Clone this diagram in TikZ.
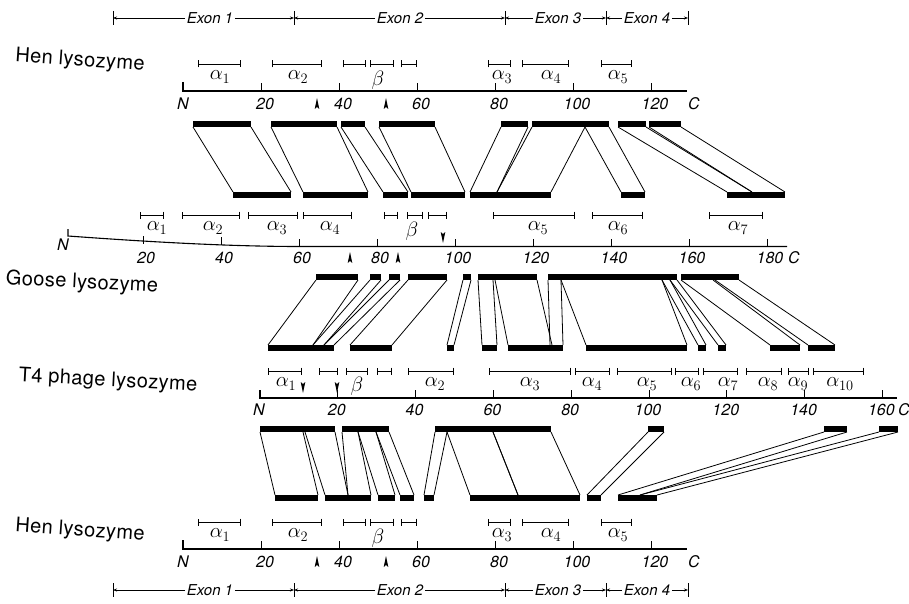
\documentclass[tikz,border=0pt]{standalone}
\usepackage{fontspec}
\setmainfont{TeX Gyre Heros}
\usetikzlibrary{arrows.meta}

\tikzset{
  bandline/.style={line width=0.8pt},
  ssbar/.style={line width=0.9pt,{Bar[width=7pt,line width=0.9pt]}-{Bar[width=7pt,line width=0.9pt]}},
  axisline/.style={line width=1.1pt},
  ticklab/.style={font=\fontsize{16}{16}\selectfont\itshape, inner sep=0pt},
  sslab/.style={font=\fontsize{20}{20}\selectfont, inner sep=0pt},
  betalab/.style={font=\fontsize{22}{22}\selectfont, inner sep=0pt},
  protlab/.style={font=\fontsize{20}{20}\selectfont\addfontfeature{LetterSpace=2}, inner sep=0pt},
  exonlab/.style={font=\fontsize{15}{15}\selectfont\itshape, inner sep=1.5pt},
  exarrow/.style={line width=0.6pt,-{Stealth[length=4pt,width=3pt]}},
}

% black alignment block, 6 units tall, top edge at #3
\newcommand\blkbar[3]{\fill ({#1},{#3}) rectangle ({#2},{#3+6});}
% the two edges of an aligned segment: topL topR botL botR ytop ybot
\newcommand\bandpair[6]{\draw[bandline] ({#1},{#5}) -- ({#3},{#6}) ({#2},{#5}) -- ({#4},{#6});}
% secondary-structure span
\newcommand\ssseg[3]{\draw[ssbar] ({#1},{#3}) -- ({#2},{#3});}
% intron position markers
\newcommand\upmark[2]{\fill ({#1-2.3},{#2+5}) -- ({#1},{#2-6}) -- ({#1+2.3},{#2+5}) -- ({#1},{#2+3}) -- cycle;}
\newcommand\downmark[2]{\fill ({#1-2.3},{#2-5}) -- ({#1},{#2+6}) -- ({#1+2.3},{#2-5}) -- ({#1},{#2-3}) -- cycle;}

% exon boundaries of the hen gene
\newcommand\exonrow[2]{%
  \foreach \bx [count=\i] in {113,294,505,606,688} {%
    \coordinate (#1b\i) at (\bx,#2);
    \draw[line width=0.7pt] (\bx,{#2-7}) -- (\bx,{#2+7});}
  \node[exonlab] (#1e1) at (210,#2) {Exon 1};
  \node[exonlab] (#1e2) at (400,#2) {Exon 2};
  \node[exonlab] (#1e3) at (558,#2) {Exon 3};
  \node[exonlab] (#1e4) at (647,#2) {Exon 4};
  \draw[exarrow] (#1e1.west) -- (#1b1);
  \draw[exarrow] (#1e1.east) -- (#1b2);
  \draw[exarrow] (#1e2.west) -- (#1b2);
  \draw[exarrow] (#1e2.east) -- (#1b3);
  \draw[exarrow] (#1e3.west) -- (#1b3);
  \draw[exarrow] (#1e3.east) -- (#1b4);
  \draw[exarrow] (#1e4.west) -- (#1b4);
  \draw[exarrow] (#1e4.east) -- (#1b5);
}

% hen lysozyme sequence axis with its secondary structure; #2 = y of the spans
\newcommand\henrow[2]{%
  \ssseg{198}{241}{#2}\ssseg{272}{322}{#2}
  \ssseg{343}{366}{#2}\ssseg{370}{394}{#2}\ssseg{401}{417}{#2}
  \ssseg{488}{511}{#2}\ssseg{522}{569}{#2}\ssseg{601}{632}{#2}
  \node[sslab] (#1a1) at (220,{#2+13}) {$\alpha_1$};
  \node[sslab] (#1a2) at (298,{#2+13}) {$\alpha_2$};
  \node[betalab] (#1b) at (378,{#2+16}) {$\beta$};
  \node[sslab] (#1a3) at (502,{#2+13}) {$\alpha_3$};
  \node[sslab] (#1a4) at (551,{#2+13}) {$\alpha_4$};
  \node[sslab] (#1a5) at (618,{#2+13}) {$\alpha_5$};
  \draw[axisline] (183,{#2+18}) -- (183,{#2+27}) -- (687,{#2+27});
  \foreach \r in {20,40,...,120} {%
    \draw[line width=0.8pt] ({183+3.9*\r},{#2+27}) -- ({183+3.9*\r},{#2+19});
    \node[ticklab] (#1n\r) at ({187+3.9*\r},{#2+40}) {\r};}
  \node[ticklab] (#1N) at (183,{#2+40}) {N};
  \node[ticklab] (#1C) at (694,{#2+40}) {C};
  \upmark{317}{#2+40}\upmark{386}{#2+40}
}

\begin{document}
\begin{tikzpicture}[x=1pt,y=-1pt]
\useasboundingbox (0,0) rectangle (909,604);

% ---------------- hen lysozyme, top ----------------
\exonrow{top}{18}
\henrow{ht}{64}
\node[protlab, rotate=-4] (henTop) at (80,61) {Hen lysozyme};

% ---------------- hen / goose segments ----------------
\foreach \a/\b in {193/251,271/337,341/365,379/435,501/528,532/609,618/646,649/681}
  {\blkbar{\a}{\b}{121}}
\foreach \a/\b in {233/291,303/368,383/408,411/465,470/551,621/645,727/785}
  {\blkbar{\a}{\b}{192}}
\bandpair{193}{251}{233}{291}{127}{192}
\bandpair{271}{337}{303}{368}{127}{192}
\bandpair{341}{365}{383}{408}{127}{192}
\bandpair{379}{435}{411}{465}{127}{192}
\bandpair{501}{528}{470}{497}{127}{192}
\bandpair{532}{585}{497}{551}{127}{192}
\bandpair{585}{609}{621}{645}{127}{192}
\bandpair{618}{646}{727}{752}{127}{192}
\bandpair{649}{681}{752}{785}{127}{192}

% ---------------- goose lysozyme ----------------
\ssseg{140}{164}{215}\ssseg{182}{240}{215}\ssseg{248}{298}{215}\ssseg{303}{352}{215}
\ssseg{384}{398}{215}\ssseg{407}{423}{215}\ssseg{428}{447}{215}
\ssseg{493}{575}{215}\ssseg{592}{643}{215}\ssseg{709}{763}{215}
\node[sslab] (ga1) at (157,228) {$\alpha_1$};
\node[sslab] (ga2) at (213,228) {$\alpha_2$};
\node[sslab] (ga3) at (277,228) {$\alpha_3$};
\node[sslab] (ga4) at (330,228) {$\alpha_4$};
\node[betalab] (gb) at (412,231) {$\beta$};
\node[sslab] (ga5) at (538,228) {$\alpha_5$};
\node[sslab] (ga6) at (618,228) {$\alpha_6$};
\node[sslab] (ga7) at (738,228) {$\alpha_7$};
\draw[axisline] (68,229) -- (68,236) .. controls (150,242) and (230,246.5) .. (300,246.5) -- (787,246.5);
\foreach \r/\dy in {20/3,40/1.5,60/0,80/0,100/0,120/0,140/0,160/0,180/0} {%
  \draw[line width=0.8pt] ({65+3.9*\r},{246.5-\dy}) -- ({65+3.9*\r},{238.5-\dy});
  \node[ticklab] (gn\r) at ({68+3.9*\r},258) {\r};}
\node[ticklab] (gN) at (63,245) {N};
\node[ticklab] (gC) at (794,258) {C};
\upmark{350}{258}\upmark{398}{258}
\downmark{443}{237}
\node[protlab, rotate=-3] (goose) at (82,283) {Goose lysozyme};

% ---------------- goose / T4 segments ----------------
\foreach \a/\b in {316/358,370/381,389/400,408/447,463/471,478/537,548/677,681/739}
  {\blkbar{\a}{\b}{274}}
\foreach \a/\b in {268/334,350/392,447/454,482/497,508/563,586/687,698/706,718/726,770/800,808/835}
  {\blkbar{\a}{\b}{345}}
\bandpair{316}{358}{268}{313}{280}{345}
\bandpair{370}{381}{313}{324}{280}{345}
\bandpair{389}{400}{324}{334}{280}{345}
\bandpair{408}{447}{350}{392}{280}{345}
\bandpair{463}{471}{447}{454}{280}{345}
\bandpair{478}{493}{482}{497}{280}{345}
\bandpair{495}{537}{508}{552}{280}{345}
\bandpair{548}{561}{550}{563}{280}{345}
\bandpair{561}{662}{586}{687}{280}{345}
\bandpair{662}{670}{698}{706}{280}{345}
\bandpair{670}{677}{718}{726}{280}{345}
\bandpair{681}{713}{770}{800}{280}{345}
\bandpair{715}{739}{808}{835}{280}{345}

% ---------------- T4 phage lysozyme ----------------
\ssseg{268}{302}{371}
\ssseg{319}{338}{371}\ssseg{346}{368}{371}\ssseg{377}{392}{371}
\ssseg{408}{454}{371}\ssseg{489}{571}{371}\ssseg{575}{610}{371}\ssseg{617}{672}{371}
\ssseg{675}{699}{371}\ssseg{703}{738}{371}\ssseg{746}{782}{371}\ssseg{788}{809}{371}
\ssseg{813}{864}{371}
\node[sslab] (ta1) at (286,384) {$\alpha_1$};
\node[betalab] (tb) at (357,386) {$\beta$};
\node[sslab] (ta2) at (435,384) {$\alpha_2$};
\node[sslab] (ta3) at (530,384) {$\alpha_3$};
\node[sslab] (ta4) at (592,384) {$\alpha_4$};
\node[sslab] (ta5) at (647,384) {$\alpha_5$};
\node[sslab] (ta6) at (691,384) {$\alpha_6$};
\node[sslab] (ta7) at (728,384) {$\alpha_7$};
\node[sslab] (ta8) at (768,384) {$\alpha_8$};
\node[sslab] (ta9) at (798,384) {$\alpha_9$};
\node[sslab] (ta10) at (840,384) {$\alpha_{10}$};
\draw[axisline] (260,390) -- (260,398) -- (897,398);
\foreach \r in {20,40,...,160} {%
  \draw[line width=0.8pt] ({260+3.89*\r},398) -- ({260+3.89*\r},390);
  \node[ticklab] (tn\r) at ({259+3.89*\r},410) {\r};}
\node[ticklab] (tN) at (259,410) {N};
\node[ticklab] (tC) at (904,410) {C};
\downmark{303}{387}\downmark{337}{387}
\node[protlab, rotate=-3] (t4) at (108,381) {T4 phage lysozyme};

% ---------------- T4 / hen segments ----------------
\foreach \a/\b in {260/335,342/389,435/551,648/664,824/847,879/898}
  {\blkbar{\a}{\b}{426}}
\foreach \a/\b in {275/318,325/371,378/395,400/414,424/434,470/580,587/601,618/657}
  {\blkbar{\a}{\b}{495}}
\bandpair{260}{303}{275}{318}{432}{495}
\bandpair{305}{335}{325}{348}{432}{495}
\bandpair{342}{358}{348}{371}{432}{495}
\bandpair{358}{376}{378}{395}{432}{495}
\bandpair{376}{389}{400}{414}{432}{495}
\bandpair{435}{447}{424}{434}{432}{495}
\bandpair{447}{493}{470}{518}{432}{495}
\bandpair{493}{551}{518}{580}{432}{495}
\bandpair{648}{664}{587}{601}{432}{495}
\bandpair{824}{847}{618}{640}{432}{495}
\bandpair{879}{898}{640}{657}{432}{495}

% ---------------- hen lysozyme, bottom ----------------
\henrow{hb}{522}
\node[protlab, rotate=-4] (henBot) at (80,531) {Hen lysozyme};
\exonrow{bot}{590}

\end{tikzpicture}
\end{document}
